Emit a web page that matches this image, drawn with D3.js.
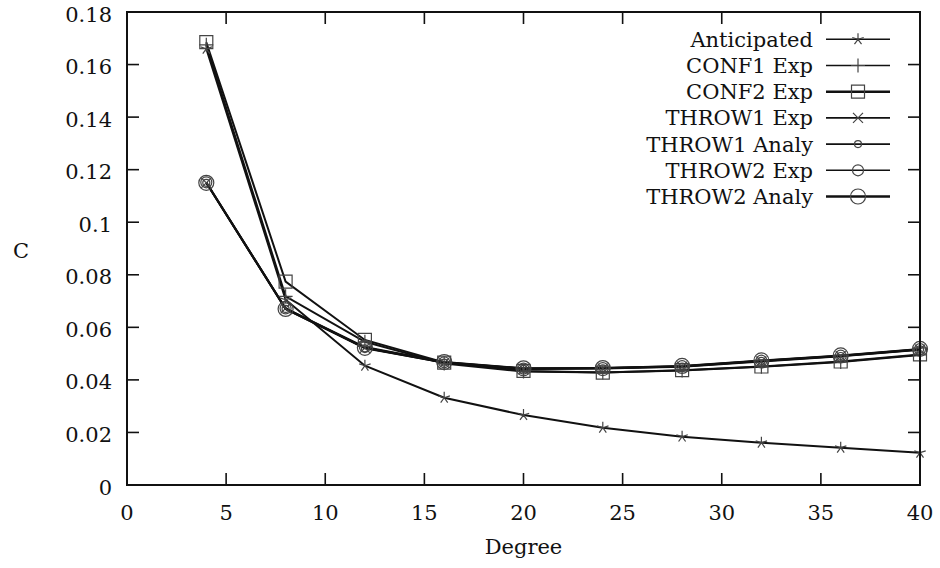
<!DOCTYPE html>
<html><head><meta charset="utf-8">
<script src="https://cdn.jsdelivr.net/npm/d3@7"></script>
<style>body{margin:0;background:#fff}svg{display:block}</style>
</head><body><svg id="c" width="940" height="568"></svg>
<script>
const degrees = [4, 8, 12, 16, 20, 24, 28, 32, 36, 40];
const anticipated = [0.166, 0.0705, 0.0454, 0.0332, 0.0266, 0.0218, 0.0184, 0.0161, 0.0142, 0.0123];
const conf1Exp   = [0.1675, 0.0718, 0.0545, 0.0462, 0.0432, 0.0428, 0.0436, 0.0450, 0.0468, 0.0495];
const conf2Exp   = [0.1685, 0.0774, 0.0552, 0.0466, 0.0434, 0.0428, 0.0437, 0.0451, 0.0470, 0.0497];
const throw1Exp  = [0.1150, 0.0672, 0.0522, 0.0465, 0.0441, 0.0443, 0.0450, 0.0470, 0.0490, 0.0515];
const throw1Analy= [0.1150, 0.0670, 0.0520, 0.0466, 0.0442, 0.0444, 0.0451, 0.0472, 0.0491, 0.0516];
const throw2Exp  = [0.1152, 0.0672, 0.0525, 0.0467, 0.0443, 0.0445, 0.0452, 0.0473, 0.0492, 0.0517];
const throw2Analy= [0.1150, 0.0670, 0.0522, 0.0468, 0.0444, 0.0445, 0.0453, 0.0474, 0.0493, 0.0518];
const seriesNames = ["Anticipated", "CONF1 Exp", "CONF2 Exp", "THROW1 Exp", "THROW1 Analy", "THROW2 Exp", "THROW2 Analy"];
const xTicks = [0, 5, 10, 15, 20, 25, 30, 35, 40];
const yTicks = [0, 0.02, 0.04, 0.06, 0.08, 0.1, 0.12, 0.14, 0.16, 0.18];
const yTickLabels = ["0", "0.02", "0.04", "0.06", "0.08", "0.1", "0.12", "0.14", "0.16", "0.18"];

const series = [
  {name: seriesNames[0], values: anticipated, marker: "star", lw: 1.6},
  {name: seriesNames[1], values: conf1Exp, marker: "plus", lw: 1.6},
  {name: seriesNames[2], values: conf2Exp, marker: "square", lw: 2.6},
  {name: seriesNames[3], values: throw1Exp, marker: "cross", lw: 1.6},
  {name: seriesNames[4], values: throw1Analy, marker: "circleS", lw: 1.6},
  {name: seriesNames[5], values: throw2Exp, marker: "circleM", lw: 1.6},
  {name: seriesNames[6], values: throw2Analy, marker: "circleL", lw: 2.6}
];

const FONT = "'DejaVu Serif', 'Liberation Serif', serif";
const FS = 21;
const svg = d3.select("#c");
const L = 127, R = 920, T = 12, B = 485;
const x = d3.scaleLinear().domain([0, 40]).range([L, R]);
const y = d3.scaleLinear().domain([0, 0.18]).range([B, T]);

function txt(g, xx, yy, s, anchor) {
  return g.append("text").attr("x", xx).attr("y", yy).attr("text-anchor", anchor)
    .attr("font-family", FONT).attr("font-size", FS).attr("fill", "#111").text(s);
}

function markerPath(type) {
  const p = d3.path();
  if (type === "star") {
    const r = 6;
    for (let k = 0; k < 5; k++) {
      const a = -Math.PI / 2 + k * 2 * Math.PI / 5;
      p.moveTo(0, 0); p.lineTo(r * Math.cos(a), r * Math.sin(a));
    }
  } else if (type === "plus") {
    p.moveTo(-7, 0); p.lineTo(7, 0); p.moveTo(0, -7); p.lineTo(0, 7);
  } else if (type === "square") {
    p.rect(-6.5, -6.5, 13, 13);
  } else if (type === "cross") {
    p.moveTo(-5, -5); p.lineTo(5, 5); p.moveTo(-5, 5); p.lineTo(5, -5);
  } else if (type === "circleS") {
    p.moveTo(3.5, 0); p.arc(0, 0, 3.5, 0, 2 * Math.PI);
  } else if (type === "circleM") {
    p.moveTo(5.5, 0); p.arc(0, 0, 5.5, 0, 2 * Math.PI);
  } else if (type === "circleL") {
    p.moveTo(7.5, 0); p.arc(0, 0, 7.5, 0, 2 * Math.PI);
  }
  return p.toString();
}

// ticks (inside, mirrored)
const tl = 12;
xTicks.forEach(v => {
  svg.append("line").attr("x1", x(v)).attr("x2", x(v)).attr("y1", B).attr("y2", B - tl).attr("stroke", "#111").attr("stroke-width", 1.6);
  svg.append("line").attr("x1", x(v)).attr("x2", x(v)).attr("y1", T).attr("y2", T + tl).attr("stroke", "#111").attr("stroke-width", 1.6);
  txt(svg, x(v), B + 34.5, String(v), "middle");
});
yTicks.forEach((v, i) => {
  svg.append("line").attr("x1", L).attr("x2", L + tl).attr("y1", y(v)).attr("y2", y(v)).attr("stroke", "#111").attr("stroke-width", 1.6);
  svg.append("line").attr("x1", R).attr("x2", R - tl).attr("y1", y(v)).attr("y2", y(v)).attr("stroke", "#111").attr("stroke-width", 1.6);
  txt(svg, L - 15, y(v) + 9.5, yTickLabels[i], "end");
});

// series
const line = d3.line().x((d, i) => x(degrees[i])).y(d => y(d));
series.forEach(s => {
  svg.append("path").attr("d", line(s.values)).attr("fill", "none").attr("stroke", "#111").attr("stroke-width", 2);
});
series.forEach(s => {
  const mp = markerPath(s.marker);
  svg.append("g").selectAll("path").data(s.values).join("path")
    .attr("transform", (d, i) => `translate(${x(degrees[i])},${y(d)})`)
    .attr("d", mp).attr("fill", "none").attr("stroke", "#444").attr("stroke-width", 1.2);
});

// legend
const lx = 813, ls1 = 826, ls2 = 890, ly0 = 39.3, ldy = 26.2;
const lg = svg.append("g");
series.forEach((s, i) => {
  const yy = ly0 + i * ldy;
  txt(lg, lx, yy + 7.5, s.name, "end");
  lg.append("line").attr("x1", ls1).attr("x2", ls2).attr("y1", yy).attr("y2", yy).attr("stroke", "#111").attr("stroke-width", s.lw);
  lg.append("path").attr("transform", `translate(${(ls1 + ls2) / 2},${yy})`).attr("d", markerPath(s.marker))
    .attr("fill", "none").attr("stroke", "#444").attr("stroke-width", 1.2);
});

// frame
svg.append("rect").attr("x", L).attr("y", T).attr("width", R - L).attr("height", B - T).attr("fill", "none").attr("stroke", "#111").attr("stroke-width", 2);

// axis labels
txt(svg, 21, 258, "C", "middle");
txt(svg, (L + R) / 2, 554, "Degree", "middle");
</script></body></html>
